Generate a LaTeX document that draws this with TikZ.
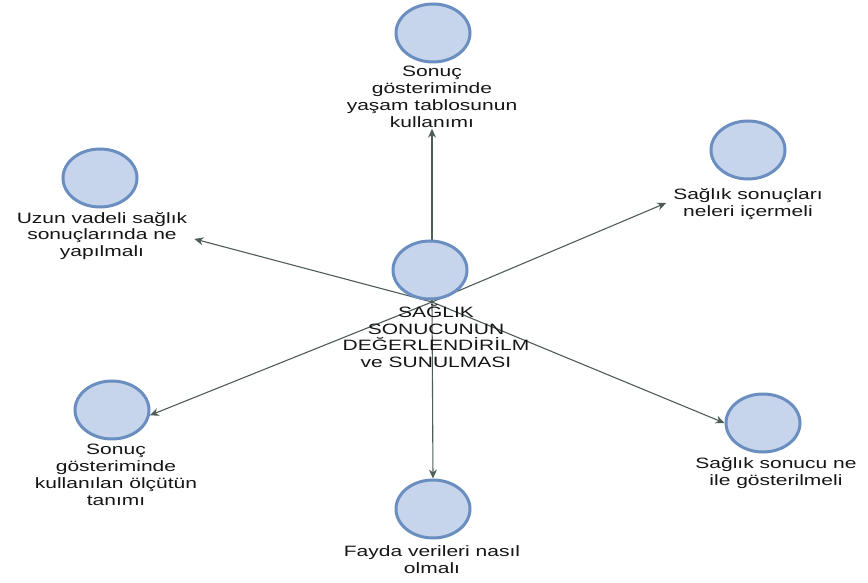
\documentclass[tikz,border=0pt]{standalone}
\usepackage{fontspec}
\setmainfont{Liberation Sans}
\newfontfamily\labfont[FakeStretch=1.4]{Liberation Sans}
\usetikzlibrary{arrows.meta,shapes.geometric}
\pgfdeclarelayer{background}
\pgfsetlayers{background,main}
\definecolor{ringc}{HTML}{6A8EC0}
\definecolor{fillc}{HTML}{C6D5EB}
\definecolor{linec}{HTML}{4E5C58}
\definecolor{txtc}{HTML}{151515}
\tikzset{
  bubble/.style={ellipse, draw=ringc, fill=fillc, line width=3pt, minimum width=74pt, minimum height=58pt, inner sep=0pt},
  lab/.style={align=center, text=txtc, font=\labfont\fontsize{15}{16.8}\selectfont, inner sep=1pt},
  conn/.style={draw=linec, line width=1.1pt, -{Stealth[length=9pt,width=8pt]}}
}
\begin{document}
\begin{tikzpicture}[x=1pt,y=-1pt]
\useasboundingbox (0,0) rectangle (868,583);
% bubbles
\node[bubble] (tc) at (433,33) {};
\node[bubble] (ulc) at (100,178) {};
\node[bubble] (urc) at (748,150) {};
\node[bubble] (cc) at (430,270) {};
\node[bubble] (llc) at (112,410) {};
\node[bubble] (bc) at (433,509) {};
\node[bubble] (lrc) at (763,423) {};
% labels
\node[lab] (tt) at (432,97) {Sonuç\\gösteriminde\\yaşam tablosunun\\kullanımı};
\node[lab] (ult) at (102,236) {Uzun vadeli sağlık\\sonuçlarında ne\\yapılmalı};
\node[lab] (urt) at (748,204) {Sağlık sonuçları\\neleri içermeli};
\node[lab] (ct) at (436,336) {SAĞLIK\\SONUCUNUN\\DEĞERLENDİRİLM\\ve SUNULMASI};
\node[lab] (llt) at (116,475) {Sonuç\\gösteriminde\\kullanılan ölçütün\\tanımı};
\node[lab] (bt) at (432,560) {Fayda verileri nasıl\\olmalı};
\node[lab] (lrt) at (776,473) {Sağlık sonucu ne\\ile gösterilmeli};
\coordinate (hub) at (432,302);
\begin{pgfonlayer}{background}
\draw[conn] (hub) -- (tt.south);
\draw[conn] (hub) -- ([xshift=6pt,yshift=-3pt]ult.east);
\draw[conn] (hub) -- ([xshift=-6pt,yshift=1pt]urt.west);
\draw[conn] (hub) -- (llc.-8);
\draw[conn] (hub) -- (bc.north);
\draw[conn] (hub) -- (lrc.west);
\end{pgfonlayer}
\end{tikzpicture}
\end{document}
